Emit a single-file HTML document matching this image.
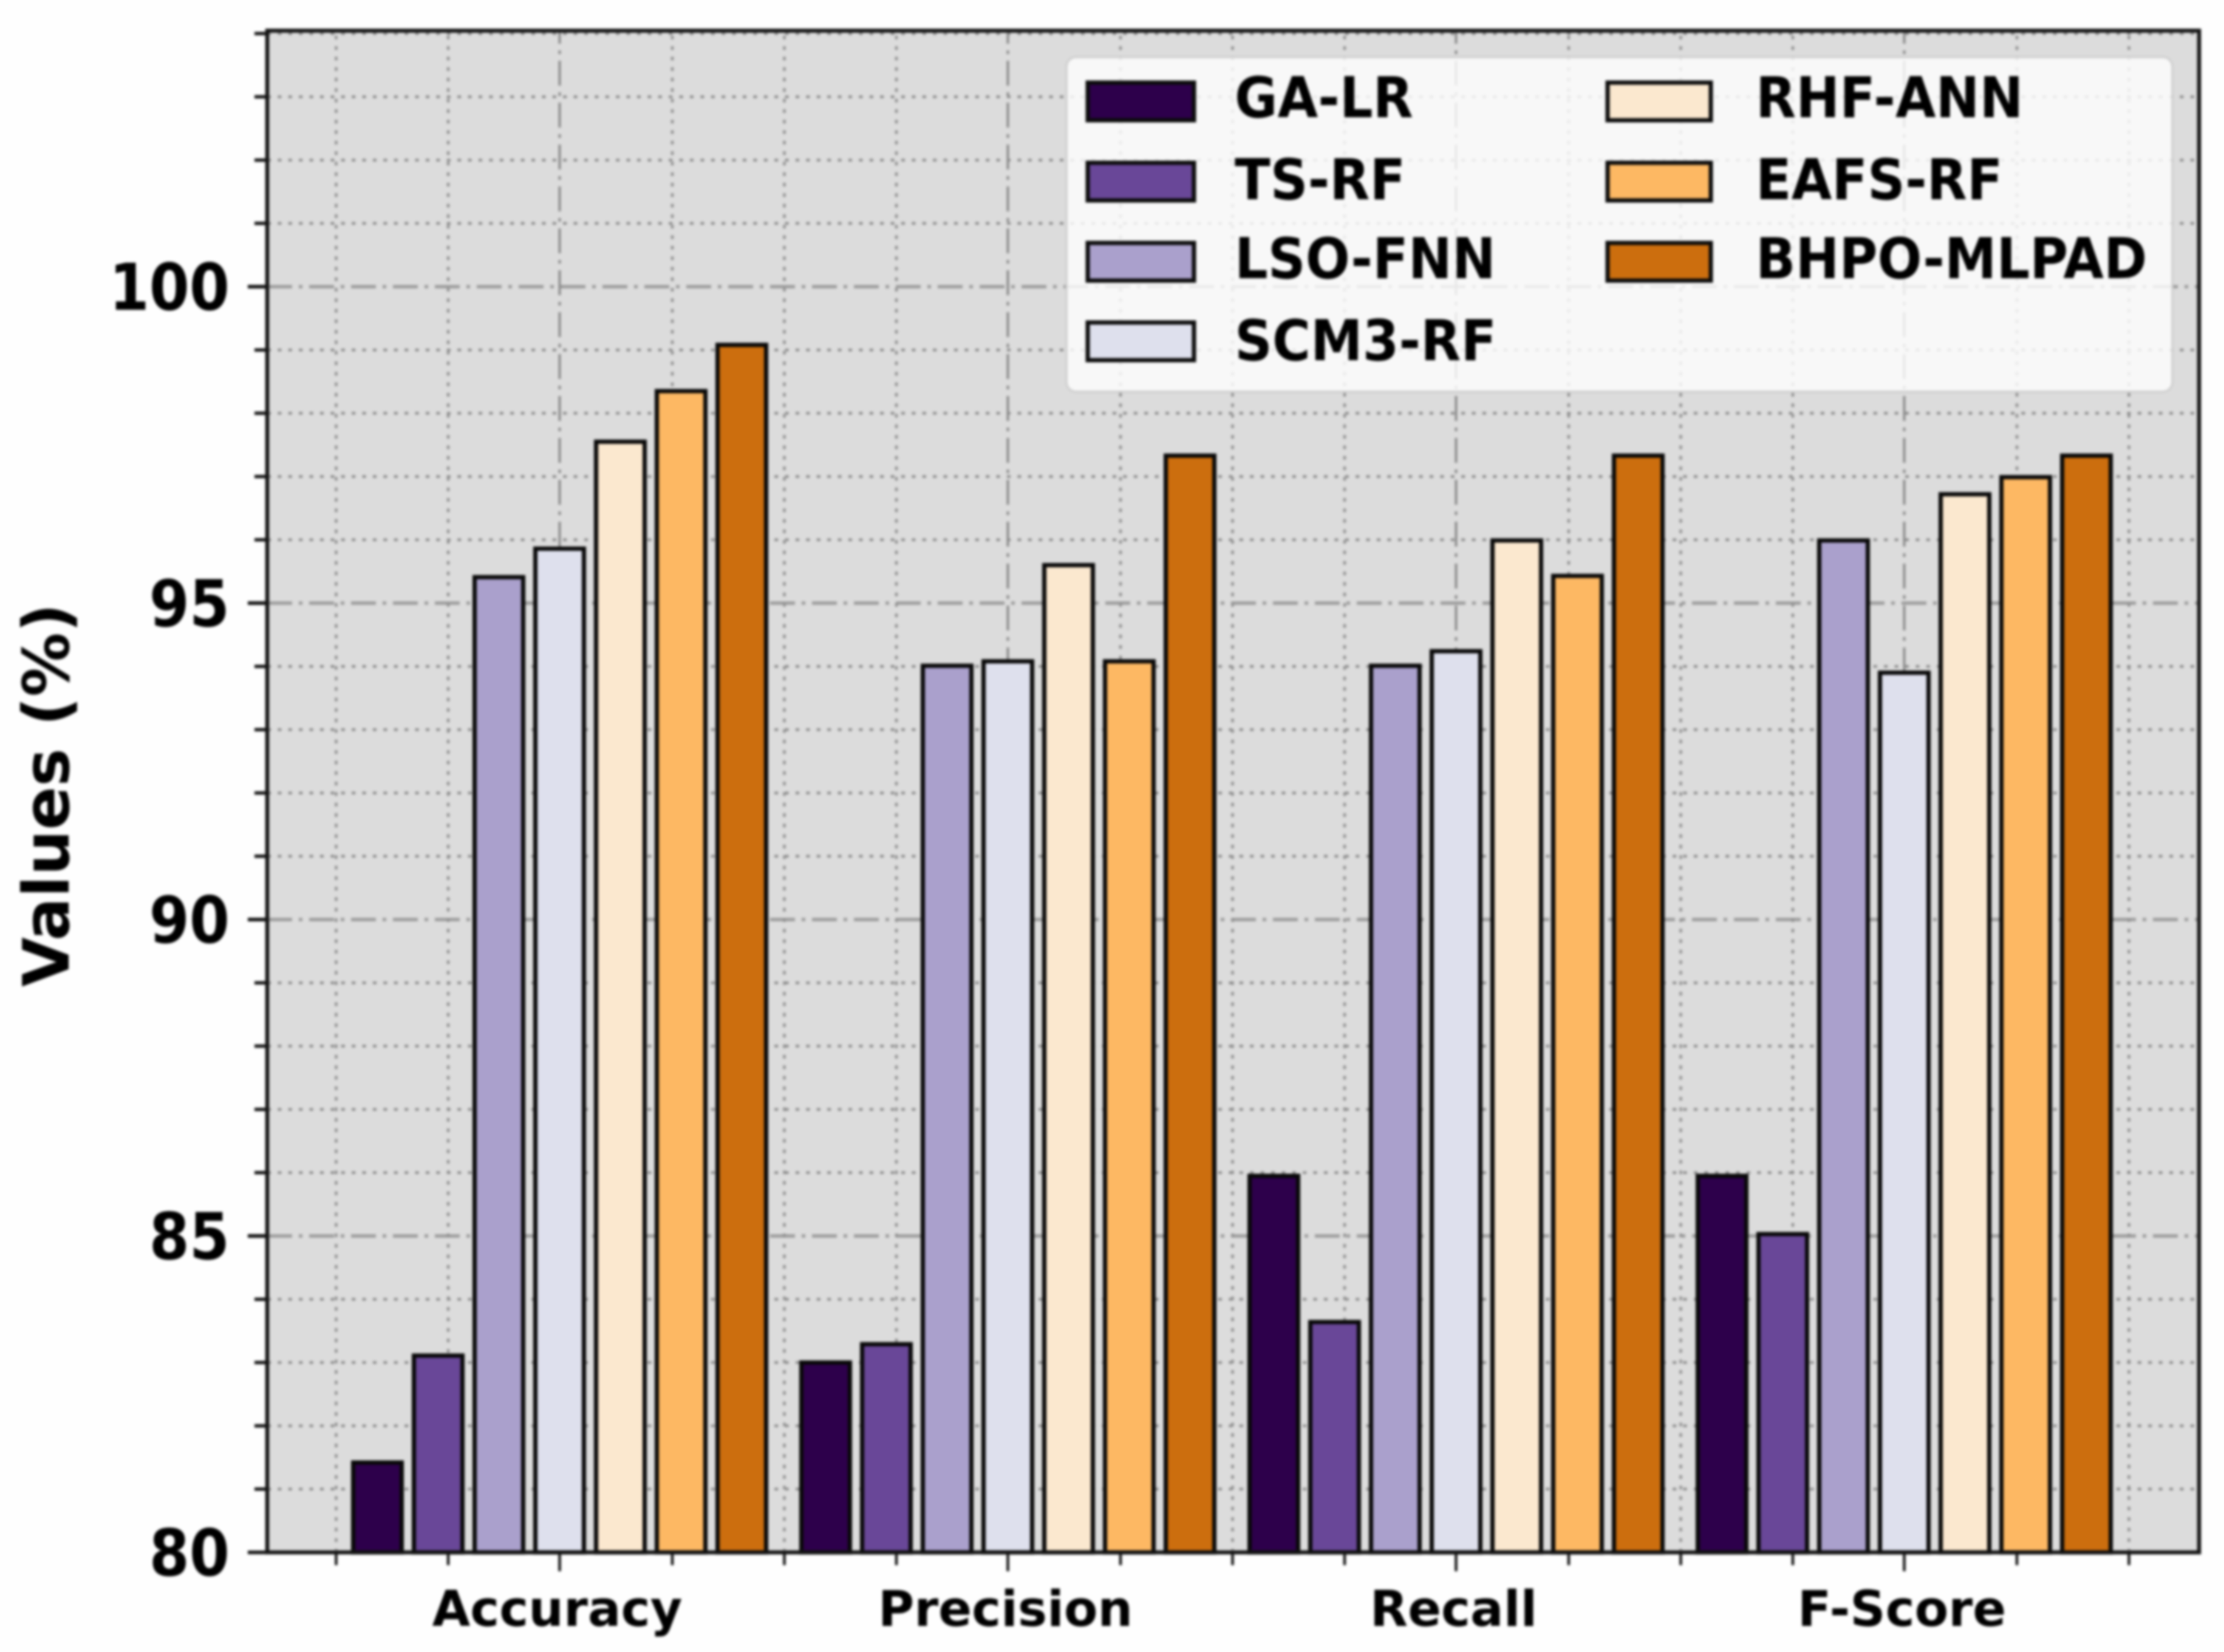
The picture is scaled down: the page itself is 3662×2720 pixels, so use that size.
<!DOCTYPE html>
<html lang="en">
<head>
<meta charset="utf-8">
<title>Values (%) by metric and model</title>
<style>
html,body{margin:0;padding:0;background:#fff;width:3662px;height:2720px;overflow:hidden}
svg{display:block;filter:blur(2.2px)}
text{font-family:"DejaVu Sans","Liberation Sans",sans-serif;font-weight:bold;fill:#000}
</style>
</head>
<body>
<svg id="chart" xmlns="http://www.w3.org/2000/svg" width="3662" height="2720" viewBox="0 0 3662 2720">
  <rect x="-20" y="-20" width="3702" height="2760" fill="#fefefe"/>
  <rect x="440" y="50" width="3181" height="2506" fill="#dcdcdc"/>
  <g id="grid"></g>
  <g id="bars"></g>
  <g id="ticks"></g>
  <g fill="none" stroke="#141414" stroke-width="6.5">
    <rect x="440" y="50.5" width="3181" height="2505.5"/>
  </g>
  <text transform="translate(113,1309) rotate(-90)" text-anchor="middle" font-size="105.5">Values (%)</text>
  <g>
    <rect x="1756" y="94" width="1821" height="551" rx="16" ry="16" fill="#ffffff" fill-opacity="0.8" stroke="#cccccc" stroke-opacity="0.8" stroke-width="4"/>
    <g>
      <rect x="1791" y="136" width="175" height="62" fill="#2d004b" stroke="#0c0c0c" stroke-width="7"/>
      <text transform="translate(2033,193) scale(1,1.08)" font-size="86">GA-LR</text>
    </g>
    <g>
      <rect x="1791" y="268" width="175" height="62" fill="#694798" stroke="#0c0c0c" stroke-width="7"/>
      <text transform="translate(2033,328) scale(1,1.08)" font-size="86">TS-RF</text>
    </g>
    <g>
      <rect x="1791" y="400" width="175" height="62" fill="#aaa0cc" stroke="#0c0c0c" stroke-width="7"/>
      <text transform="translate(2033,458) scale(1,1.08)" font-size="86">LSO-FNN</text>
    </g>
    <g>
      <rect x="1791" y="531" width="175" height="62" fill="#dee0ed" stroke="#0c0c0c" stroke-width="7"/>
      <text transform="translate(2033,593) scale(1,1.08)" font-size="86">SCM3-RF</text>
    </g>
    <g>
      <rect x="2647" y="136" width="170" height="62" fill="#fbe8cf" stroke="#0c0c0c" stroke-width="7"/>
      <text transform="translate(2891,193) scale(1,1.08)" font-size="86">RHF-ANN</text>
    </g>
    <g>
      <rect x="2647" y="268" width="170" height="62" fill="#fdb863" stroke="#0c0c0c" stroke-width="7"/>
      <text transform="translate(2891,328) scale(1,1.08)" font-size="86">EAFS-RF</text>
    </g>
    <g>
      <rect x="2647" y="400" width="170" height="62" fill="#cc6e0e" stroke="#0c0c0c" stroke-width="7"/>
      <text transform="translate(2891,458) scale(1,1.08)" font-size="86">BHPO-MLPAD</text>
    </g>
  </g>
</svg>
<script>
var categories = ["Accuracy", "Precision", "Recall", "F-Score"];
var seriesNames = ["GA-LR", "TS-RF", "LSO-FNN", "SCM3-RF", "RHF-ANN", "EAFS-RF", "BHPO-MLPAD"];
var seriesColors = ["#2d004b", "#694798", "#aaa0cc", "#dee0ed", "#fbe8cf", "#fdb863", "#cc6e0e"];
var gaLr = [81.42, 83.0, 85.95, 85.95];
var tsRf = [83.11, 83.29, 83.64, 85.03];
var lsoFnn = [95.41, 94.01, 94.01, 95.99];
var scm3Rf = [95.86, 94.08, 94.24, 93.9];
var rhfAnn = [97.55, 95.6, 95.99, 96.72];
var eafsRf = [98.35, 94.08, 95.43, 96.99];
var bhpoMlpad = [99.08, 97.33, 97.33, 97.33];
var yTickLabels = [80, 85, 90, 95, 100];
var yMinorTicks = [81, 82, 83, 84, 86, 87, 88, 89, 91, 92, 93, 94, 96, 97, 98, 99, 101, 102, 103, 104];

var allSeries = [gaLr, tsRf, lsoFnn, scm3Rf, rhfAnn, eafsRf, bhpoMlpad];
var NS = "http://www.w3.org/2000/svg";
var plotLeft = 440, plotRight = 3621, plotTop = 50, plotBottom = 2556;

function xScale(c) { return 921.5 + 738 * c; }
function yScale(v) { return 2556 - 104.2 * (v - 80); }

function make(tag, attrs, parent) {
  var el = document.createElementNS(NS, tag);
  for (var k in attrs) { el.setAttribute(k, attrs[k]); }
  parent.appendChild(el);
  return el;
}

var grid = document.getElementById("grid");
var barsGroup = document.getElementById("bars");
var ticks = document.getElementById("ticks");

/* horizontal grid + y ticks */
yMinorTicks.forEach(function (v) {
  var y = yScale(v);
  var g = make("line", {x1: plotLeft, x2: plotRight, y1: y, y2: y, stroke: "#8e8e8e", "stroke-width": 4.5, "stroke-dasharray": "6 11.4"}, grid);
  
  
  var t = make("line", {x1: 419, x2: plotLeft, y1: y, y2: y, stroke: "#141414", "stroke-width": 5.5}, ticks);
  
  
});
yTickLabels.forEach(function (v) {
  var y = yScale(v);
  var g = make("line", {x1: plotLeft, x2: plotRight, y1: y, y2: y, stroke: "#9c9c9c", "stroke-width": 5.5, "stroke-dasharray": "41 11 6 11"}, grid);
  
  
  var t = make("line", {x1: 408, x2: plotLeft, y1: y, y2: y, stroke: "#141414", "stroke-width": 6}, ticks);
  
  
  var lab = make("text", {transform: "translate(378," + (y + 38) + ") scale(1,1.12)", "text-anchor": "end", "font-size": 95}, ticks);
  
  
  lab.textContent = String(v);
});

/* vertical grid + x ticks: minor every quarter category */
for (var k = -2; k <= 14; k++) {
  var c = k * 0.25;
  var isMajor = (k % 4 === 0) && k >= 0 && k <= 12;
  var x = xScale(c) + (isMajor ? 0 : 1);
  var vg = make("line", {
    x1: x, x2: x, y1: plotBottom, y2: plotTop,
    stroke: isMajor ? "#8c8c8c" : "#929292",
    "stroke-width": isMajor ? 4 : 4.5,
    "stroke-dasharray": isMajor ? "41 11 6 11" : "6 11.3"
  }, grid);
  
  
  var xt = make("line", {x1: x, x2: x, y1: plotBottom, y2: isMajor ? 2587 : 2577, stroke: "#141414", "stroke-width": 4.5}, ticks);
  
  
}

/* category labels */
categories.forEach(function (name, i) {
  var lab = make("text", {x: xScale(i) - 4, y: 2677, "text-anchor": "middle", "font-size": 81}, ticks);
  
  
  lab.textContent = name;
});

/* bars */
var barPitch = 0.1355, barWidth = 0.1084;
allSeries.forEach(function (vals, s) {
  vals.forEach(function (v, i) {
    var cx = xScale(i + (s - 3) * barPitch);
    var w = xScale(barWidth) - xScale(0);
    var top = yScale(v);
    var r = make("rect", {
      x: cx - w / 2, y: top, width: w, height: yScale(80) - top,
      fill: seriesColors[s], stroke: "#080808", "stroke-width": 7
    }, barsGroup);
    
    
    var tip = make("title", {}, r);
    tip.textContent = seriesNames[s] + " - " + categories[i] + ": " + v;
  });
});
</script>
</body>
</html>
